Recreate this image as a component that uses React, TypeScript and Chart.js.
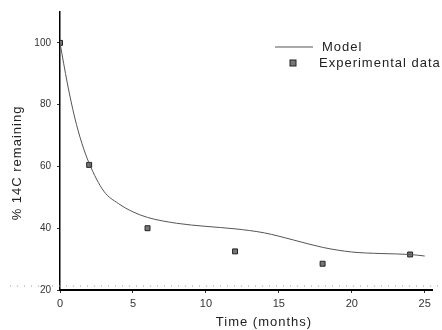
import React, { useEffect, useRef } from "react";
import { Chart, registerables } from "chart.js";

Chart.register(...registerables);

const modelX = [0, 0.5, 1, 1.5, 2, 3, 4, 5, 6, 8, 10, 12, 14, 16, 18, 20, 22, 24, 25];
const modelY = [100, 87, 76, 67.5, 61, 52, 48, 45.3, 43.5, 41.6, 40.6, 39.8, 38.5, 36.2, 33.8, 32.3, 31.8, 31.5, 31];
const expX = [0, 2, 6, 12, 18, 24];
const expY = [100, 60.5, 40, 32.5, 28.5, 31.5];
const xTickLabels = [0, 5, 10, 15, 20, 25];
const yTickLabels = [20, 40, 60, 80, 100];
const xTitle = "Time (months)";
const yTitle = "% 14C remaining";

const FONT = "'Liberation Sans', Arial, sans-serif";

const legendPlugin = {
  id: "customLegend",
  afterDatasetsDraw(chart: any) {
    const ctx = chart.ctx;
    const ds = chart.data.datasets;
    ctx.save();
    ctx.font = `13px ${FONT}`;
    (ctx as any).letterSpacing = "1px";
    ctx.fillStyle = "#222";
    ctx.textBaseline = "middle";
    // Model line
    ctx.strokeStyle = "#555";
    ctx.lineWidth = 1;
    ctx.beginPath();
    ctx.moveTo(275, 47);
    ctx.lineTo(313, 47);
    ctx.stroke();
    ctx.fillText(ds[0].label, 322, 47);
    // Experimental marker
    ctx.fillStyle = "#777";
    ctx.strokeStyle = "#222";
    ctx.fillRect(290, 60, 6, 6);
    ctx.strokeRect(290, 60, 6, 6);
    ctx.fillStyle = "#222";
    ctx.fillText(ds[1].label, 319, 63);
    // axis titles
    ctx.textAlign = "center";
    ctx.fillText(xTitle, 264, 322);
    ctx.save();
    ctx.translate(17, 163);
    ctx.rotate(-Math.PI / 2);
    ctx.fillText(yTitle, 0, 0);
    ctx.restore();
    // dotted line along bottom
    (ctx as any).letterSpacing = "0px";
    ctx.strokeStyle = "#999";
    ctx.setLineDash([1, 6]);
    ctx.beginPath();
    ctx.moveTo(10, 286);
    ctx.lineTo(440, 286);
    ctx.stroke();
    ctx.restore();
  },
};

export default function App() {
  const ref = useRef<HTMLCanvasElement | null>(null);
  useEffect(() => {
    document.body.style.margin = "0";
    const chart = new Chart(ref.current as HTMLCanvasElement, {
      type: "scatter",
      data: {
        datasets: [
          {
            label: "Model",
            data: modelX.map((x, i) => ({ x, y: modelY[i] })),
            showLine: true,
            borderColor: "#555",
            borderWidth: 1,
            pointRadius: 0,
            cubicInterpolationMode: "monotone",
          } as any,
          {
            label: "Experimental data",
            data: expX.map((x, i) => ({ x, y: expY[i] })),
            pointStyle: "rect",
            pointRadius: 3.5,
            backgroundColor: "#777",
            borderColor: "#222",
            borderWidth: 1,
          },
        ],
      },
      options: {
        animation: false,
        responsive: false,
        layout: { padding: { top: 12, right: 10, left: 0, bottom: 0 } },
        plugins: { legend: { display: false }, tooltip: { enabled: false } },
        scales: {
          x: {
            type: "linear",
            min: 0,
            max: 25.5,
            afterBuildTicks: (s: any) => {
              s.ticks = xTickLabels.map((v) => ({ value: v }));
            },
            afterFit: (s: any) => {
              s.height = 40;
            },
            border: { color: "#000", width: 2 },
            grid: { display: true, drawOnChartArea: false, tickLength: 3, color: "#333" },
            ticks: { color: "#333", font: { family: FONT, size: 11 }, padding: 4 },
          },
          y: {
            type: "linear",
            min: 20,
            max: 110,
            afterBuildTicks: (s: any) => {
              s.ticks = yTickLabels.map((v) => ({ value: v }));
            },
            afterFit: (s: any) => {
              s.width = 60;
            },
            border: { color: "#000", width: 1.5 },
            grid: { display: true, drawOnChartArea: false, tickLength: 3, color: "#333" },
            ticks: { color: "#333", font: { family: FONT, size: 10 }, padding: 6 },
          },
        },
      },
      plugins: [legendPlugin],
    });
    return () => chart.destroy();
  }, []);
  return (
    <div style={{ position: "absolute", left: 0, top: 0, width: 442, height: 330, background: "#fff" }}>
      <canvas ref={ref} width={442} height={330} />
    </div>
  );
}
